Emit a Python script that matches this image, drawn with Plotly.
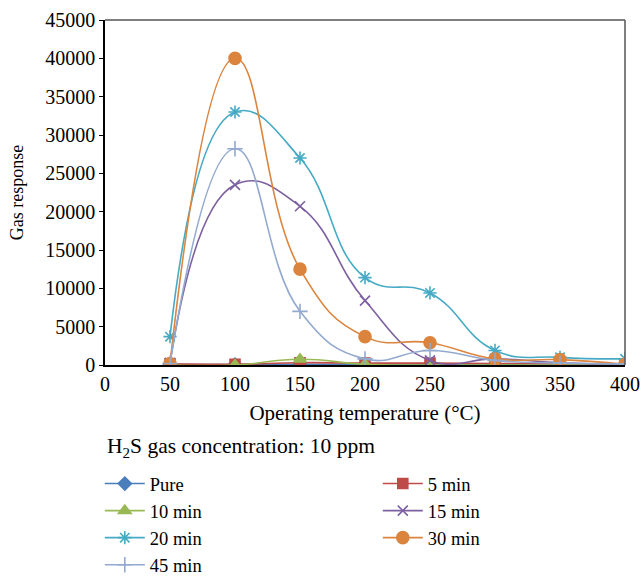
import plotly.graph_objects as go

temps = [50, 100, 150, 200, 250, 300, 350, 400]
series_names = ["Pure", "5 min", "10 min", "15 min", "20 min", "30 min", "45 min"]
pure = [50, 50, 100, 100, 100, 100, 100, 100]
min5 = [150, 100, 300, 250, 250, 200, 150, 100]
min10 = [0, 0, 750, 100, 0, 0, 0, 0]
min15 = [300, 23500, 20700, 8400, 600, 800, 300, 100]
min20 = [3700, 33000, 27000, 11400, 9400, 1900, 1000, 800]
min30 = [200, 40000, 12500, 3700, 2900, 800, 700, 100]
min45 = [200, 28200, 7000, 800, 1900, 600, 250, 150]
x_ticks = [0, 50, 100, 150, 200, 250, 300, 350, 400]
y_ticks = [0, 5000, 10000, 15000, 20000, 25000, 30000, 35000, 40000, 45000]
y_tick_labels = [str(v) for v in y_ticks]

values = [pure, min5, min10, min15, min20, min30, min45]
colors = ["#4A7EBB", "#BE4B48", "#98B954", "#7D60A0", "#46AAC5", "#DB843D", "#93A9CF"]
symbols = ["diamond", "square", "triangle-up", "x-thin", "asterisk", "circle", "cross-thin"]
sizes = [10, 10, 11, 10, 11, 12, 11]

FONT = "Liberation Serif"
fig = go.Figure()
for name, vals, c, s, sz in zip(series_names, values, colors, symbols, sizes):
    fig.add_trace(go.Scatter(
        x=temps, y=vals, name=name, mode="lines+markers",
        line=dict(color=c, width=1.6, shape="spline", smoothing=1.3),
        marker=dict(symbol=s, size=sz, color=c, line=dict(color=c, width=1.6)),
    ))

fig.update_layout(
    width=641, height=576,
    margin=dict(l=105, r=16, t=20, b=211, autoexpand=False),
    paper_bgcolor="white", plot_bgcolor="white",
    font=dict(family=FONT, size=20, color="black"),
    showlegend=True,
    legend=dict(
        orientation="h", x=-0.01, xanchor="left", y=-0.29, yanchor="top",
        entrywidth=223, entrywidthmode="pixels",
        font=dict(family=FONT, size=18.5),
        itemwidth=40,
    ),
    xaxis=dict(
        range=[0, 400], tickvals=x_ticks, showgrid=False, zeroline=False,
        showline=True, linecolor="black", linewidth=1.5, ticks="",
        tickfont=dict(size=20), title=dict(text="Operating temperature (°C)", standoff=12,
                                           font=dict(size=21)),
    ),
    yaxis=dict(
        range=[0, 45000], tickvals=y_ticks, ticktext=y_tick_labels, showgrid=False,
        zeroline=False, showline=True, linecolor="black", linewidth=1.5,
        ticks="outside", ticklen=4, tickcolor="black", tickfont=dict(size=20),
        title=dict(text="Gas response", standoff=17, font=dict(size=18)),
    ),
)
fig.add_annotation(text="H<sub>2</sub>S gas concentration: 10 ppm", xref="paper", yref="paper",
                   x=0, y=-0.238, xanchor="left", yanchor="middle", showarrow=False,
                   font=dict(family=FONT, size=21.5))
# top and right frame edges
fig.add_shape(type="line", xref="paper", yref="paper", x0=0, x1=1, y0=1, y1=1,
              line=dict(color="#555555", width=1.5))
fig.add_shape(type="line", xref="paper", yref="paper", x0=1, x1=1, y0=0, y1=1,
              line=dict(color="#555555", width=1.5))

fig.write_html(
    "out.html",
    config={"displayModeBar": False},
    post_script="document.body.style.margin='0';document.body.style.overflow='hidden';",
)
